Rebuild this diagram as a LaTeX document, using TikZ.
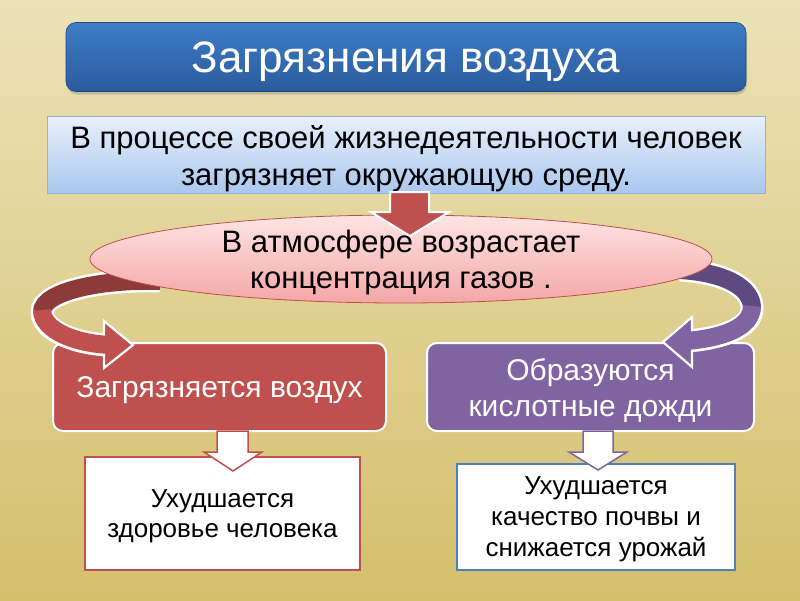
\documentclass[tikz,border=0pt]{standalone}
\usepackage{fontspec}
\setmainfont{Liberation Sans}
\usetikzlibrary{shapes.geometric,shadows}
\definecolor{bgtop}{HTML}{EBE2B8}
\definecolor{bgbot}{HTML}{D5BF6C}
\definecolor{ttop}{HTML}{3E7DC8}
\definecolor{tbot}{HTML}{2A5B9C}
\definecolor{lbtop}{HTML}{E8F0FA}
\definecolor{lbbot}{HTML}{A9C7EE}
\definecolor{lbline}{HTML}{95B3D7}
\definecolor{pktop}{HTML}{FFE4E4}
\definecolor{pkbot}{HTML}{F4A6A6}
\definecolor{myred}{HTML}{C0504D}
\definecolor{mydred}{HTML}{8E3A3A}
\definecolor{mypurple}{HTML}{8064A2}
\definecolor{mydpurple}{HTML}{5E4A80}
\definecolor{myblue}{HTML}{4F81BD}
\tikzset{
  titlebox/.style={draw=tbot!80!black, line width=0.6pt, rounded corners=10pt, top color=ttop, bottom color=tbot,
    minimum width=680pt, minimum height=69pt, text=white, text depth=0pt, font=\fontsize{44}{48}\selectfont,
    drop shadow={shadow xshift=1pt, shadow yshift=-3pt, opacity=0.35}},
  infobox/.style={draw=lbline, line width=0.8pt, top color=lbtop, bottom color=lbbot, text depth=0pt,
    minimum width=718pt, minimum height=77pt, align=center, font=\fontsize{31}{37}\selectfont},
  pinkell/.style={ellipse, draw=myred, line width=0.8pt, top color=pktop, bottom color=pkbot, inner sep=0pt,
    text depth=0pt, minimum width=622pt, minimum height=88pt, align=center, font=\fontsize{31}{36}\selectfont},
  colbox/.style={draw=white, line width=2pt, rounded corners=10pt, minimum height=88pt, text=white,
    text depth=0pt, align=center, font=\fontsize{30}{36}\selectfont},
  whitebox/.style={fill=white, line width=1.2pt, align=center, text depth=0pt, font=\fontsize{26}{30}\selectfont},
  bigarrow/.style={fill=myred, draw=white, line width=2pt, line join=miter},
  smallarrow/.style={fill=white, line width=1.5pt, line join=miter}
}
\begin{document}
\begin{tikzpicture}[x=1pt,y=-1pt]
\useasboundingbox (0,0) rectangle (800,600);
\shade[top color=bgtop, bottom color=bgbot] (0,0) rectangle (800,600);

% title
\node[titlebox] (title) at (406,57) {Загрязнения воздуха};

% info box
\node[infobox] (info) at (406,155) {В процессе своей жизнедеятельности человек\\загрязняет окружающую среду.};

% coloured boxes
\node[colbox, fill=myred, minimum width=333pt] (air) at (219.5,387) {Загрязняется воздух};
\node[colbox, fill=mypurple, minimum width=327pt] (rain) at (590.5,387) {Образуются\\кислотные дожди};

% curved arrows (drawn over the boxes, below the ellipse)
% left
\draw[white, line width=23pt] (160,281) .. controls (100,279) and (42,292) .. (42,312) .. controls (42,330) and (75,344) .. (110,345);
\draw[fill=myred, draw=white, line width=2.2pt, line join=miter] (104,321) -- (133,345) -- (104,368) -- cycle;
\draw[mydred, line width=18pt] (160,281) .. controls (100,279) and (42,292) .. (42,312);
\draw[myred, line width=18pt] (42,310) .. controls (42,330) and (75,344) .. (112,345);
% right
\draw[white, line width=23pt] (680,270) .. controls (730,273) and (752,290) .. (752,308) .. controls (752,328) and (722,338) .. (688,341);
\draw[fill=mypurple, draw=white, line width=2.2pt, line join=miter] (692,317) -- (663,342) -- (692,367) -- cycle;
\draw[mydpurple, line width=18pt] (680,270) .. controls (730,273) and (752,290) .. (752,308);
\draw[mypurple, line width=18pt] (752,306) .. controls (752,328) and (722,338) .. (686,341);

% ellipse
\node[pinkell] (atm) at (401,259) {В атмосфере возрастает\\концентрация газов .};

% big red down arrow
\draw[bigarrow] (390,192) -- (429,192) -- (429,212) -- (449,212) -- (410,236) -- (371,212) -- (390,212) -- cycle;

% white boxes
\node[whitebox, draw=myred, minimum width=275pt, minimum height=113pt] (health) at (222.5,513.5) {Ухудшается\\здоровье человека};
\node[whitebox, draw=myblue, minimum width=278pt, minimum height=106pt, font=\fontsize{26}{31}\selectfont] (soil) at (596,517) {Ухудшается\\качество почвы и\\снижается урожай};

% small arrows
\draw[smallarrow, draw=myred] (217,431) -- (248,431) -- (248,452) -- (262,452) -- (233,471) -- (204,452) -- (217,452) -- cycle;
\draw[smallarrow, draw=mypurple] (583,431) -- (613,431) -- (613,452) -- (627,452) -- (598,470) -- (569,452) -- (583,452) -- cycle;
\end{tikzpicture}
\end{document}
